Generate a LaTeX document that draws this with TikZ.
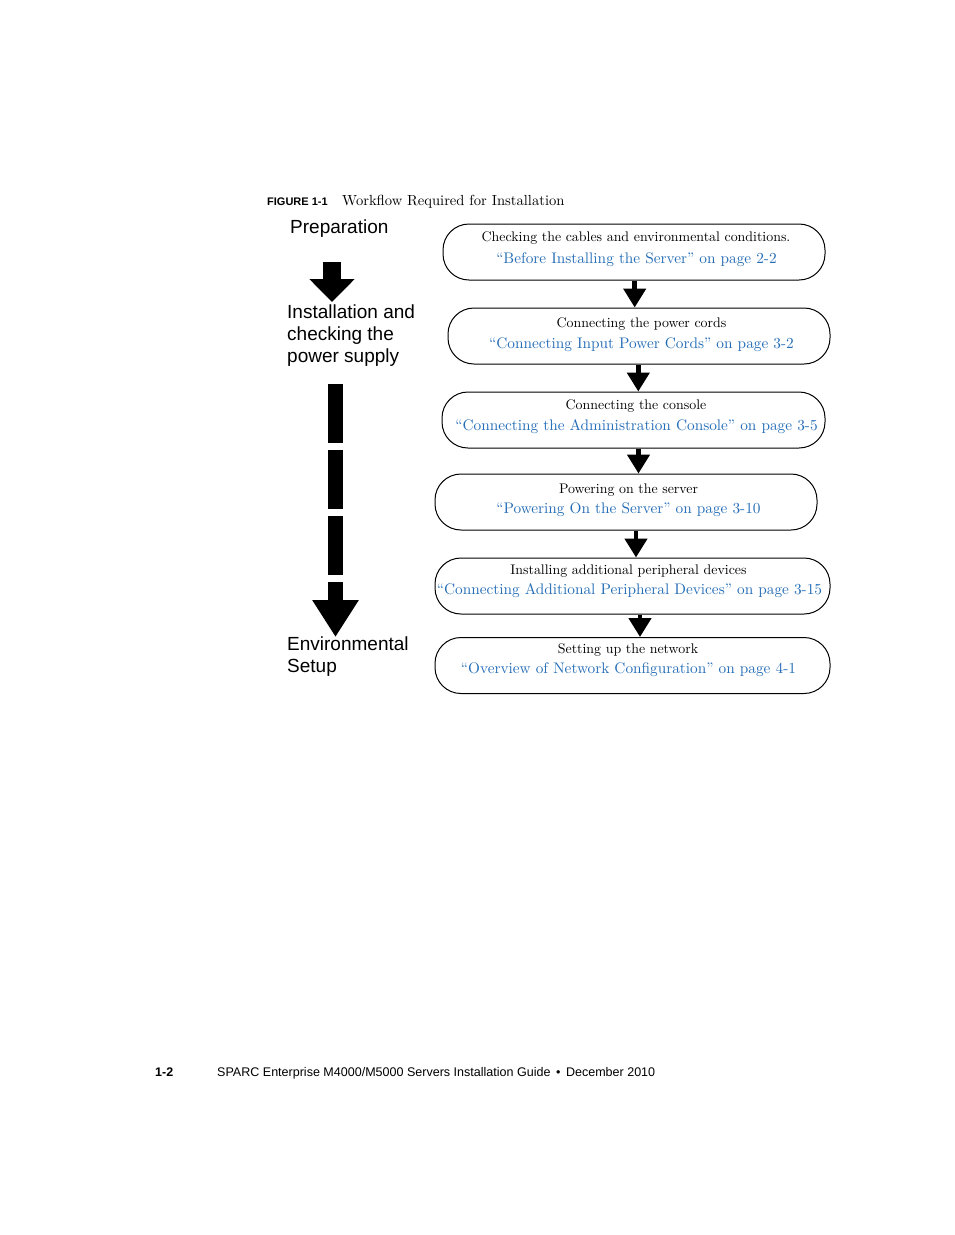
\documentclass[tikz,border=0pt]{standalone}
\usepackage{fontspec}
\setmainfont{lmroman10-regular}[Extension=.otf]
\setsansfont{Liberation Sans}
\usetikzlibrary{arrows.meta}
\definecolor{linkblue}{RGB}{35,108,182}
\begin{document}
\begin{tikzpicture}[x=1pt,y=-1pt,
  box/.style={draw=black, line width=1pt, rounded corners=26pt, minimum height=56pt, inner sep=0pt},
  line1/.style={anchor=base, inner sep=0pt, font=\fontsize{13.9}{16}\selectfont},
  line2/.style={anchor=base, inner sep=0pt, text=linkblue, font=\fontsize{15.3}{18}\selectfont},
  conn/.style={line width=4.6pt, -{Triangle[width=22pt,length=19pt]}},
  side/.style={anchor=base west, inner sep=0pt, align=left, font=\sffamily\fontsize{19}{22}\selectfont},
  bigarrow/.style={line width=18pt, -{Triangle[width=44pt,length=23pt]}},
  dasharrow/.style={line width=15pt, dash pattern=on 59pt off 7pt, -{Triangle[width=44pt,length=37pt]}}
]
\useasboundingbox (0,0) rectangle (954,1235);

% title
\node[anchor=base west, inner sep=0pt, font=\sffamily\bfseries\fontsize{11}{13}\selectfont] (figlab) at (267,205) {FIGURE 1-1};
\node[anchor=base west, inner sep=0pt, font=\fontsize{14.6}{17}\selectfont] (figtitle) at (342,205) {Workflow Required for Installation};

% left column (base anchor of a multi-line node = last line)
\node[side] (prep) at (290,233) {Preparation};
\node[side] (inst) at (287,362) {Installation and\\checking the\\power supply};
\node[side] (env) at (287,672) {Environmental\\Setup};
\coordinate (a1s) at (332,262);
\coordinate (a1e) at (332,302);
\coordinate (a2s) at (335.5,384);
\coordinate (a2e) at (335.5,637);
\draw[bigarrow] (a1s) -- (a1e);
\draw[dasharrow] (a2s) -- (a2e);

% boxes
\node[box, minimum width=382pt] (b1) at (634,252) {};
\node[box, minimum width=382pt] (b2) at (639,336) {};
\node[box, minimum width=383pt] (b3) at (633.5,420) {};
\node[box, minimum width=382pt] (b4) at (626,502) {};
\node[box, minimum width=395pt] (b5) at (632.5,586) {};
\node[box, minimum width=395pt] (b6) at (632.5,665.5) {};

\node[line1] (t1) at (636,241) {Checking the cables and environmental conditions.};
\node[line2] (l1) at (636.5,263) {“Before Installing the Server” on page 2-2};
\node[line1] (t2) at (641.5,327) {Connecting the power cords};
\node[line2] (l2) at (641.5,348) {“Connecting Input Power Cords” on page 3-2};
\node[line1] (t3) at (636,409) {Connecting the console};
\node[line2] (l3) at (636.5,430) {“Connecting the Administration Console” on page 3-5};
\node[line1] (t4) at (628.5,493) {Powering on the server};
\node[line2] (l4) at (628.5,513) {“Powering On the Server” on page 3-10};
\node[line1] (t5) at (628.5,574) {Installing additional peripheral devices};
\node[line2] (l5) at (629.5,594) {“Connecting Additional Peripheral Devices” on page 3-15};
\node[line1] (t6) at (628,653) {Setting up the network};
\node[line2] (l6) at (628.5,673) {“Overview of Network Configuration” on page 4-1};

% connectors
\draw[conn] (b1.south -| 634.7,0) -- (b2.north -| 634.7,0);
\draw[conn] (b2.south -| 638.3,0) -- (b3.north -| 638.3,0);
\draw[conn] (b3.south -| 638.5,0) -- (b4.north -| 638.5,0);
\draw[conn] (b4.south -| 636,0) -- (b5.north -| 636,0);
\draw[conn] (b5.south -| 640,0) -- (b6.north -| 640,0);

% footer
\node[anchor=base west, inner sep=0pt, font=\sffamily\bfseries\fontsize{12.5}{15}\selectfont] (pg) at (155,1076) {1-2};
\node[anchor=base west, inner sep=0pt, font=\sffamily\fontsize{12.53}{15}\selectfont] (foot) at (217,1076) {SPARC Enterprise M4000/M5000 Servers Installation Guide \,•\, December 2010};
\end{tikzpicture}
\end{document}
